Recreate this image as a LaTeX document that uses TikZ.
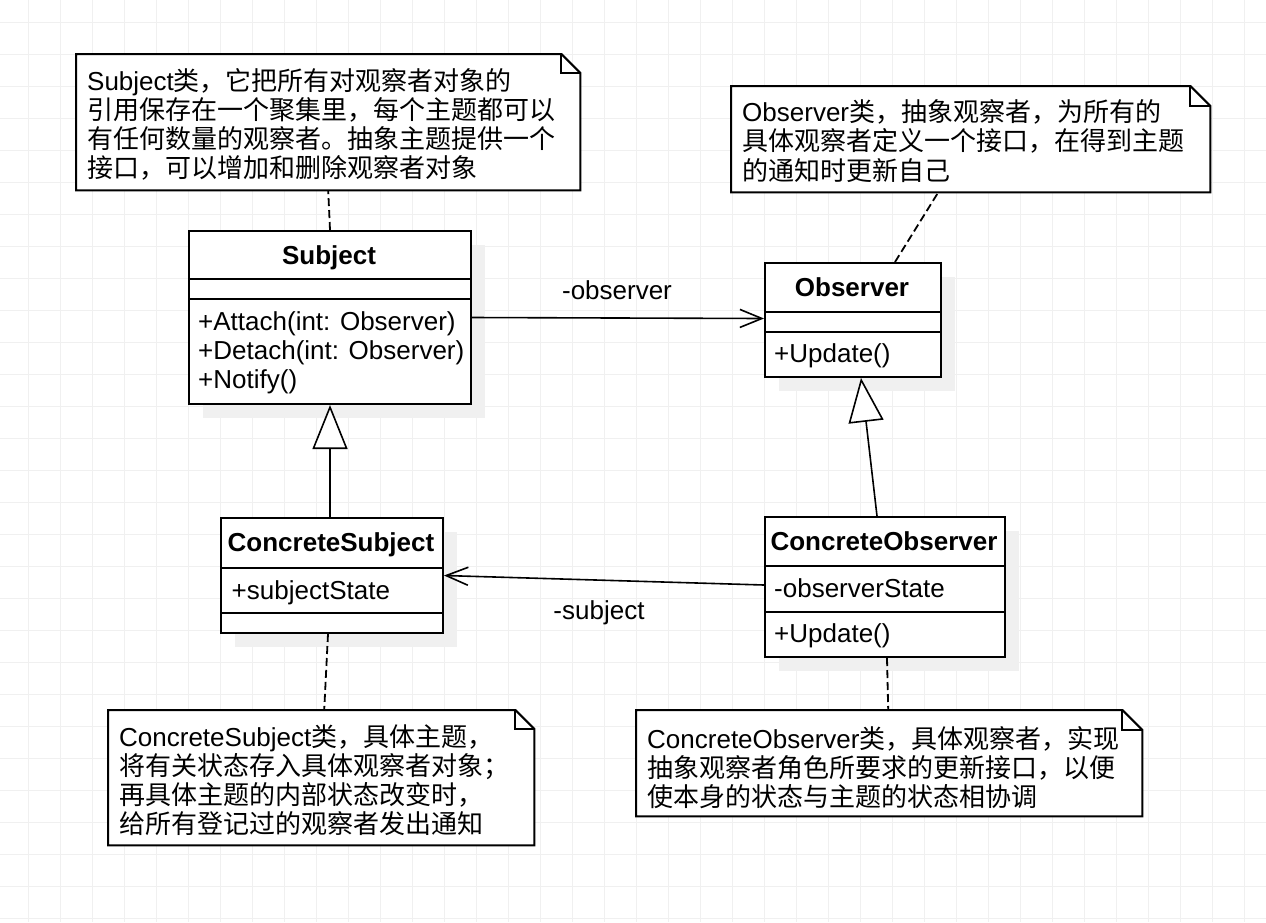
\documentclass[tikz,border=0pt]{standalone}
\usepackage{fontspec}
\setmainfont{Liberation Sans}
\newfontfamily\cjk{Noto Sans CJK SC}
\usetikzlibrary{arrows.meta,shadows}
\tikzset{
  gridline/.style={draw=black!6, line width=1pt},
  classbox/.style={draw=black, line width=2pt, fill=white, inner sep=0pt, anchor=north west,
    general shadow={fill=black!6, shadow xshift=14pt, shadow yshift=-14pt}},
  sepline/.style={draw=black, line width=2pt},
  notebox/.style={inner sep=0pt, anchor=north west},
  noteline/.style={draw=black, line width=2pt, line join=miter},
  txt/.style={font=\fontsize{26}{29.2}\selectfont, inner sep=0pt},
  notetext/.style={txt, align=left, anchor=west},
  member/.style={txt, anchor=base west},
  classtitle/.style={font=\bfseries\fontsize{26}{29.2}\selectfont, inner sep=0pt, anchor=base},
  assoc/.style={draw=black, line width=1.6pt, -{Straight Barb[length=22pt,width=18pt]}},
  inherit/.style={draw=black, line width=1.6pt, -{Triangle[length=44pt,width=35pt,fill=white]}},
  dashline/.style={draw=black, line width=1.8pt, dash pattern=on 8pt off 4pt}
}
\begin{document}
\begin{tikzpicture}[x=1pt,y=-1pt]
\useasboundingbox (0,0) rectangle (1266,922);
\fill[white] (0,0) rectangle (1266,922);
% grid
\foreach \i in {0,...,38} { \draw[gridline] ({28.3+32*\i},0) -- ({28.3+32*\i},922); }
\foreach \j in {0,...,28} { \draw[gridline] (0,{22.7+32*\j}) -- (1266,{22.7+32*\j}); }

% ---- classes ----
\node[classbox, minimum width=282pt, minimum height=173pt] (subject) at (188,230) {};
\draw[sepline] ([yshift=-49pt]subject.north west) -- ([yshift=-49pt]subject.north east);
\draw[sepline] ([yshift=-69pt]subject.north west) -- ([yshift=-69pt]subject.north east);
\node[classtitle] (subjecttitle) at (329,264) {Subject};
\node[member] (sm1) at (198,330) {+Attach(int: Observer)};
\node[member] (sm2) at (198,359.5) {+Detach(int: Observer)};
\node[member] (sm3) at (198,388.5) {+Notify()};

\node[classbox, minimum width=176pt, minimum height=114pt] (observer) at (764,262) {};
\draw[sepline] ([yshift=-50pt]observer.north west) -- ([yshift=-50pt]observer.north east);
\draw[sepline] ([yshift=-70pt]observer.north west) -- ([yshift=-70pt]observer.north east);
\node[classtitle] (observertitle) at (852,296) {Observer};
\node[member] (om1) at (774,362) {+Update()};

\node[classbox, minimum width=222pt, minimum height=115pt] (cs) at (220,517) {};
\draw[sepline] ([yshift=-51pt]cs.north west) -- ([yshift=-51pt]cs.north east);
\draw[sepline] ([yshift=-96pt]cs.north west) -- ([yshift=-96pt]cs.north east);
\node[classtitle] (cstitle) at (331,551.5) {ConcreteSubject};
\node[member] (csm1) at (231.5,599) {+subjectState};

\node[classbox, minimum width=240pt, minimum height=140pt] (co) at (764,516) {};
\draw[sepline] ([yshift=-50pt]co.north west) -- ([yshift=-50pt]co.north east);
\draw[sepline] ([yshift=-96pt]co.north west) -- ([yshift=-96pt]co.north east);
\node[classtitle] (cotitle) at (884,550) {ConcreteObserver};
\node[member] (com1) at (774,597) {-observerState};
\node[member] (com2) at (774,642) {+Update()};

% ---- notes ----
\node[notebox, minimum width=504pt, minimum height=136pt] (snote) at (76,54) {};
\draw[noteline, fill=white] (snote.north west) -- ([xshift=-19pt]snote.north east) -- ([yshift=-19pt]snote.north east) -- (snote.south east) -- (snote.south west) -- cycle;
\draw[noteline] ([xshift=-19pt]snote.north east) -- ++(0,19) -- ([yshift=-19pt]snote.north east);
\node[notetext] (snotetext) at (87,124.2) {Subject{\cjk 类，它把所有对观察者对象的}\\{\cjk 引用保存在一个聚集里，每个主题都可以}\\{\cjk 有任何数量的观察者。抽象主题提供一个}\\{\cjk 接口，可以增加和删除观察者对象}};

\node[notebox, minimum width=479pt, minimum height=106pt] (onote) at (731,86) {};
\draw[noteline, fill=white] (onote.north west) -- ([xshift=-20pt]onote.north east) -- ([yshift=-20pt]onote.north east) -- (onote.south east) -- (onote.south west) -- cycle;
\draw[noteline] ([xshift=-20pt]onote.north east) -- ++(0,20) -- ([yshift=-20pt]onote.north east);
\node[notetext] (onotetext) at (742,141) {Observer{\cjk 类，抽象观察者，为所有的}\\{\cjk 具体观察者定义一个接口，在得到主题}\\{\cjk 的通知时更新自己}};

\node[notebox, minimum width=426pt, minimum height=135pt] (csnote) at (108,710) {};
\draw[noteline, fill=white] (csnote.north west) -- ([xshift=-19pt]csnote.north east) -- ([yshift=-19pt]csnote.north east) -- (csnote.south east) -- (csnote.south west) -- cycle;
\draw[noteline] ([xshift=-19pt]csnote.north east) -- ++(0,19) -- ([yshift=-19pt]csnote.north east);
\node[notetext] (csnotetext) at (119,780) {ConcreteSubject{\cjk 类，具体主题，}\\{\cjk 将有关状态存入具体观察者对象；}\\{\cjk 再具体主题的内部状态改变时，}\\{\cjk 给所有登记过的观察者发出通知}};

\node[notebox, minimum width=506pt, minimum height=106pt] (conote) at (636,710) {};
\draw[noteline, fill=white] (conote.north west) -- ([xshift=-20pt]conote.north east) -- ([yshift=-20pt]conote.north east) -- (conote.south east) -- (conote.south west) -- cycle;
\draw[noteline] ([xshift=-20pt]conote.north east) -- ++(0,20) -- ([yshift=-20pt]conote.north east);
\node[notetext] (conotetext) at (647,767.5) {ConcreteObserver{\cjk 类，具体观察者，实现}\\{\cjk 抽象观察者角色所要求的更新接口，以便}\\{\cjk 使本身的状态与主题的状态相协调}};

% ---- connectors ----
\draw[assoc] (subject.east) -- ([yshift=1.5pt]observer.west);
\node[txt] (obslabel) at (617,290.5) {-observer};
\draw[assoc] ([yshift=2pt]co.west) -- (cs.east);
\node[txt] (sublabel) at (599,612.5) {-subject};
\draw[inherit] ([xshift=-2pt]cs.north) -- (subject.south);
\draw[inherit] ([xshift=-8pt]co.north) -- ([xshift=8pt]observer.south);

\draw[dashline] (subject.north) -- (snote.south);
\draw[dashline] ([xshift=42pt]observer.north) -- ([xshift=-32.5pt]onote.south);
\draw[dashline] ([xshift=-4pt]cs.south) -- ([xshift=3pt]csnote.north);
\draw[dashline] ([xshift=2pt]co.south) -- ([xshift=-1pt]conote.north);
\end{tikzpicture}
\end{document}
